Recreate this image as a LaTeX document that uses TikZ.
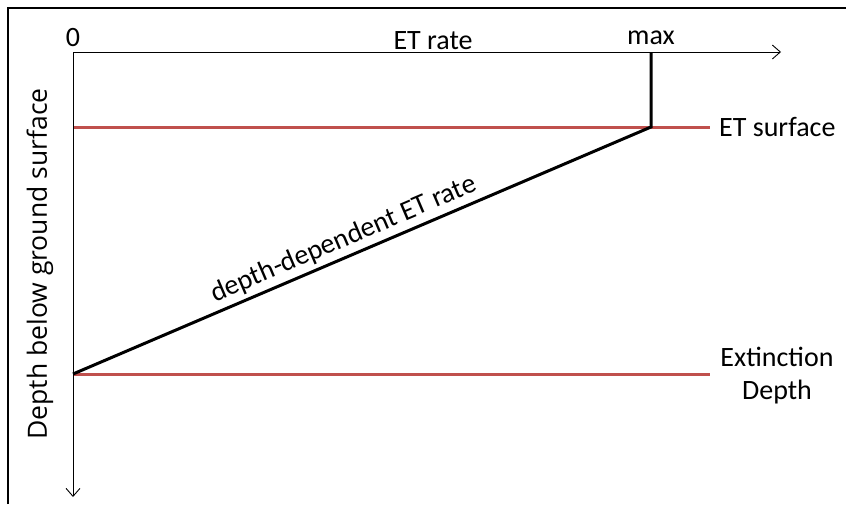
\documentclass[tikz,border=0pt]{standalone}
\usepackage{fontspec}
\setmainfont{Carlito}
\newfontfamily\labelfont{Open Sans}
\usetikzlibrary{arrows.meta}
\definecolor{etred}{HTML}{C0504D}
\begin{document}
\begin{tikzpicture}[x=1pt,y=-1pt,
  axis/.style={line width=1pt,-{Straight Barb[length=8pt,width=14pt,line width=0.9pt]}},
  redline/.style={etred,line width=3pt},
  curve/.style={black,line width=3pt,line join=miter},
  txt/.style={font=\fontsize{28}{33}\selectfont,inner sep=0pt}]
\useasboundingbox (0,0) rectangle (846,504);
\draw[line width=2pt] (8,504) -- (8,8) -- (846,8);
\coordinate (O) at (73,52);
\coordinate (xend) at (781,52);
\coordinate (yend) at (73,497);
\coordinate (maxtop) at (651,52);
\coordinate (knee) at (651,127);
\coordinate (ext) at (73,374);
\coordinate (s0) at (73,127);
\coordinate (s1) at (710,127);
\coordinate (e1) at (710,374);
\draw[redline] (s0) -- (s1);
\draw[redline] (ext) -- (e1);
\draw[axis] (O) -- (xend);
\draw[axis] (O) -- (yend);
\draw[curve] (maxtop) -- (knee) -- (ext)
  node[pos=0.52,sloped,above=4pt,txt] (dlab) {depth-dependent ET rate};
\node[txt] (zero) at (73,38) {0};
\node[txt] (etrate) at (433,41) {ET rate};
\node[txt] (maxl) at (651,38) {max};
\node[txt,anchor=west] (etsurf) at (719,127) {ET surface};
\node[txt,align=center] (extl) at (777,376) {Extinction\\Depth};
\node[font=\labelfont\fontsize{26.5}{30}\selectfont,inner sep=0pt,rotate=90] (ylab) at (40,264) {Depth below ground surface};
\end{tikzpicture}
\end{document}
